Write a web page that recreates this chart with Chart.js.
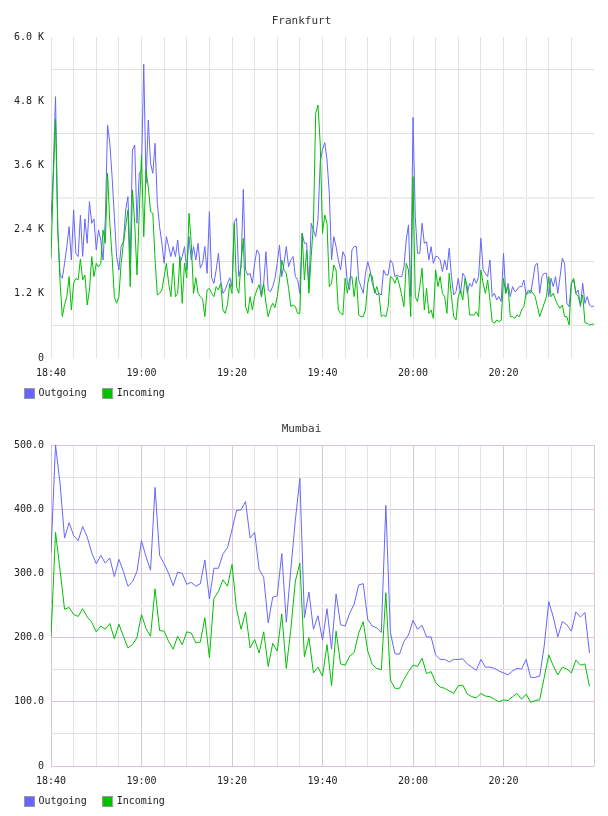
<!DOCTYPE html>
<html>
<head>
<meta charset="utf-8">
<script src="https://cdn.jsdelivr.net/npm/chart.js@4.4.1/dist/chart.umd.min.js"></script>
<style>
  html, body { margin: 0; padding: 0; background: #fff; }
  canvas { display: block; }
</style>
</head>
<body>
<canvas id="fraChart" width="608" height="408"></canvas>
<canvas id="bomChart" width="608" height="408"></canvas>
<script>
// tick labels
const timeTicks = ['18:40', '19:00', '19:20', '19:40', '20:00', '20:20'];
const fraTickLabels = ['0', '1.2 K', '2.4 K', '3.6 K', '4.8 K', '6.0 K'];
const bomTickLabels = ['0', '100.0', '200.0', '300.0', '400.0', '500.0'];

// Frankfurt, one sample every 30 s from 18:40 (minutes after 18:40)
const fraMinutes = Array.from({ length: 241 }, (_, i) => i / 2);
const fraOutgoing = [
    2580, 3500, 4885, 2400, 1552, 1490, 1770, 2082, 2455, 1832,
    2767, 1957, 1895, 2670, 1900, 2600, 2144, 2923, 2518, 2600,
    2019, 2393, 2206, 1832, 2580, 4355, 4013, 3390, 2642, 1895,
    1645, 2082, 2175, 2767, 3016, 1770, 3888, 3982, 2518, 3452,
    3514, 5489, 3265, 4449, 3639, 3452, 4013, 2891, 2455, 2144,
    1770, 2268, 2082, 1895, 2082, 1895, 2206, 1770, 1895, 2082,
    1645, 2268, 1832, 2082, 1832, 2144, 1680, 1770, 2082, 1583,
    2736, 1500, 1396, 1645, 1957, 1450, 1209, 1272, 1396, 1500,
    1334, 2549, 2611, 1521, 1700, 3153, 1645, 1550, 1583, 1396,
    1770, 2019, 1957, 1147, 1396, 1988, 1272, 1241, 1334, 1490,
    1770, 2113, 1521, 1770, 2082, 1708, 1832, 1895, 1521, 1459,
    1209, 2331, 2144, 2144, 1300, 2518, 2393, 2268, 2580, 3670,
    3900, 4025, 3701, 3078, 1832, 2268, 2082, 1832, 1645, 1988,
    1895, 1396, 1272, 2019, 2082, 2082, 1459, 1334, 1209, 1583,
    1800, 1645, 1396, 1272, 1178, 1209, 1178, 1645, 1552, 1552,
    1832, 1770, 1521, 1552, 1521, 1521, 1700, 2206, 2487, 1147,
    4499, 2642, 1957, 1957, 2518, 2144, 2175, 1832, 2082, 1770,
    1900, 1895, 1832, 1614, 1832, 1645, 2050, 1521, 1178, 1241,
    1490, 1209, 1583, 1521, 1209, 1396, 1334, 1490, 1396, 1521,
    2237, 1645, 1583, 1521, 1832, 1147, 1209, 1085, 1147, 1054,
    1957, 1209, 1396, 1147, 1334, 1241, 1272, 1334, 1334, 1459,
    1178, 1272, 1209, 1459, 1739, 1770, 1209, 1521, 1583, 1583,
    1147, 1490, 1334, 1521, 1209, 1521, 1864, 1770, 1022, 960,
    1396, 1459, 1209, 1272, 960, 1396, 1022, 1147, 991, 960,
    973
];
const fraIncoming = [
    1864, 3327, 4461, 2400, 1427, 773, 1000, 1147, 1521, 898,
    1396, 1490, 1459, 1850, 1459, 1552, 991, 1272, 1895, 1521,
    1770, 1700, 1770, 2393, 2144, 3452, 2518, 1895, 1147, 1022,
    1147, 1770, 2144, 2455, 2767, 1334, 3141, 2518, 1552, 2700,
    3795, 2268, 3514, 3200, 2736, 2705, 1832, 1178, 1209, 1272,
    1521, 1770, 1396, 1147, 1770, 1147, 1209, 1895, 1022, 1770,
    1500, 2705, 2144, 1209, 1500, 1209, 1147, 1100, 773, 1272,
    1300, 1209, 1147, 1334, 1272, 1396, 898, 835, 1000, 1396,
    1209, 2518, 1334, 1209, 1770, 2237, 960, 835, 1147, 898,
    1147, 1272, 1370, 1147, 1396, 1022, 773, 929, 1022, 940,
    1150, 1459, 1832, 1645, 1583, 1300, 960, 991, 960, 835,
    835, 2331, 1459, 2019, 1209, 1895, 2518, 4574, 4729, 4000,
    2331, 2673, 2518, 1334, 1396, 1739, 1645, 898, 835, 804,
    1490, 1209, 1490, 1521, 1147, 1521, 804, 773, 773, 898,
    1396, 1583, 1521, 1209, 1334, 1178, 773, 804, 773, 960,
    1521, 1490, 1396, 1521, 1365, 1178, 960, 1770, 1645, 773,
    3390, 1147, 1054, 1334, 1677, 900, 1300, 835, 898, 740,
    1645, 1334, 1521, 1209, 1147, 835, 1583, 1147, 773, 711,
    1147, 1272, 1085, 1490, 1334, 804, 804, 804, 867, 773,
    1645, 1396, 1209, 1459, 1085, 680, 648, 711, 680, 711,
    1490, 1209, 1334, 773, 773, 742, 804, 773, 898, 960,
    1209, 1209, 1272, 1209, 1147, 960, 773, 898, 1022, 1150,
    1521, 1147, 1209, 1085, 991, 929, 991, 773, 773, 617,
    1396, 1490, 1209, 1147, 1000, 1178, 660, 648, 617, 630,
    635
];

// Mumbai, one sample per minute from 18:40
const bomMinutes = Array.from({ length: 120 }, (_, i) => i);
const bomOutgoing = [
    332, 500, 440, 355, 379, 359, 351, 373, 357, 332,
    315, 328, 316, 324, 295, 322, 303, 280, 287, 303,
    351, 326, 305, 434, 328, 315, 300, 281, 302, 300,
    283, 286, 280, 284, 321, 260, 308, 308, 330, 340,
    368, 398, 399, 412, 355, 364, 306, 294, 223, 263,
    265, 331, 224, 306, 383, 448, 231, 271, 213, 234,
    196, 245, 182, 268, 220, 218, 238, 252, 282, 284,
    228, 218, 215, 208, 406, 208, 175, 174, 194, 204,
    227, 213, 219, 201, 201, 173, 166, 166, 162, 166,
    166, 167, 159, 154, 149, 166, 154, 154, 152, 148,
    145, 142, 148, 152, 151, 166, 138, 138, 140, 187,
    256, 232, 201, 225, 220, 210, 240, 232, 239, 176
];
const bomIncoming = [
    201, 364, 305, 244, 247, 236, 233, 245, 232, 224,
    209, 218, 213, 222, 198, 221, 202, 184, 189, 200,
    236, 214, 202, 276, 211, 210, 194, 182, 202, 189,
    209, 207, 192, 193, 231, 169, 261, 272, 290, 280,
    314, 245, 213, 240, 184, 197, 176, 209, 155, 191,
    179, 237, 152, 213, 288, 316, 170, 200, 145, 154,
    140, 189, 125, 210, 159, 157, 171, 177, 207, 225,
    179, 158, 152, 150, 270, 134, 121, 121, 135, 147,
    157, 155, 168, 144, 147, 130, 123, 121, 117, 113,
    125, 126, 112, 108, 106, 113, 109, 108, 104, 100,
    103, 102, 108, 113, 104, 112, 99, 102, 103, 138,
    173, 156, 142, 154, 151, 145, 165, 157, 159, 124
];

const C = { out: '#6666ff', inc: '#00c000', grid: '#e2e2e2', mid: '#eeeeee', major: '#dcc3dc', none: 'rgba(0,0,0,0)' };
const MONO = "'DejaVu Sans Mono', monospace";

// legend row under the time labels: small swatches with a grey edge
const swatchLegend = {
    id: 'swatchLegend',
    afterDraw(chart) {
        const { ctx, chartArea } = chart;
        const y = chartArea.bottom + 30;
        let x = 24;
        ctx.save();
        ctx.font = '10px ' + MONO;
        ctx.textBaseline = 'middle';
        ctx.lineWidth = 1;
        chart.data.datasets.forEach(ds => {
            ctx.fillStyle = ds.borderColor;
            ctx.fillRect(x, y, 10, 10);
            ctx.strokeStyle = '#999';
            ctx.strokeRect(x + 0.5, y + 0.5, 10, 10);
            ctx.fillStyle = '#222';
            ctx.fillText(ds.label, x + 14.5, y + 5.5);
            x += 14.5 + ctx.measureText(ds.label).width + 15.5;
        });
        ctx.restore();
    }
};

function makeChart(id, title, minutes, outgoing, incoming, g) {
    new Chart(document.getElementById(id), {
        type: 'line',
        data: {
            labels: minutes,
            datasets: [
                { label: 'Outgoing', data: outgoing, borderColor: C.out, backgroundColor: C.out, order: 2 },
                { label: 'Incoming', data: incoming, borderColor: C.inc, backgroundColor: C.inc, order: 1 }
            ]
        },
        options: {
            responsive: false,
            animation: false,
            layout: { padding: { left: 9, right: 14, top: 0, bottom: 25 } },
            elements: {
                line: { borderWidth: 1, tension: 0 },
                point: { radius: 0 }
            },
            plugins: {
                tooltip: { enabled: false },
                legend: { display: false },
                title: {
                    display: true, text: title, color: '#333',
                    font: { family: MONO, size: 11, weight: 'normal' },
                    padding: { top: 15, bottom: 8.8 }
                }
            },
            scales: {
                x: {
                    type: 'linear', min: 0, max: 120,
                    afterFit: s => { s.height = 25; },
                    border: { display: false },
                    grid: {
                        drawTicks: false,
                        color: c => c.tick.value === 120 ? g.xEnd : (c.tick.value % 20 === 0 ? g.xMajor : C.grid)
                    },
                    ticks: {
                        stepSize: 5, autoSkip: false, maxRotation: 0, padding: 9,
                        color: '#222', font: { family: MONO, size: 10 },
                        callback: v => v % 20 === 0 ? (timeTicks[v / 20] || '') : ''
                    }
                },
                y: {
                    min: 0, max: g.yMax,
                    afterFit: s => { s.width = 42; },
                    border: { display: false },
                    grid: {
                        drawTicks: false,
                        color: c => c.tick.value === g.yMax / 2 ? C.mid : (c.tick.value % g.yLabelStep === 0 ? g.yMajor : C.grid),
                        lineWidth: c => c.tick.value === g.yMax / 2 ? 2 : 1
                    },
                    ticks: {
                        stepSize: g.yLabelStep / 2, autoSkip: false, padding: 7,
                        color: '#222', font: { family: MONO, size: 10 },
                        callback: v => v % g.yLabelStep === 0 ? g.yLabels[v / g.yLabelStep] : ''
                    }
                }
            }
        },
        plugins: [swatchLegend]
    });
}

makeChart('fraChart', 'Frankfurt', fraMinutes, fraOutgoing, fraIncoming,
    { yMax: 6000, yLabelStep: 1200, yLabels: fraTickLabels, yMajor: C.none, xMajor: C.grid, xEnd: C.none });
makeChart('bomChart', 'Mumbai', bomMinutes, bomOutgoing, bomIncoming,
    { yMax: 500, yLabelStep: 100, yLabels: bomTickLabels, yMajor: C.major, xMajor: C.major, xEnd: C.major });
</script>
</body>
</html>
